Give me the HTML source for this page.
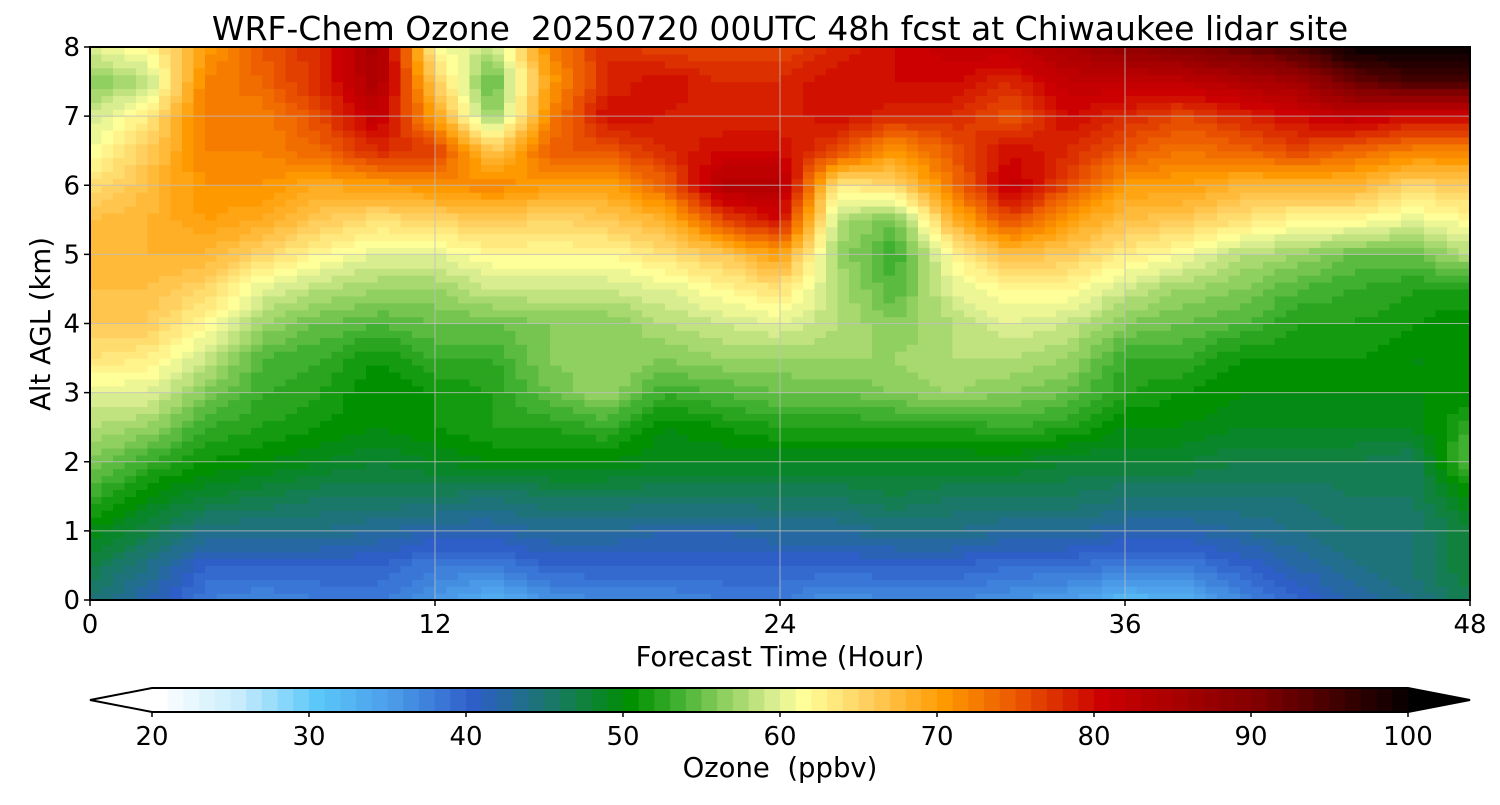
<!DOCTYPE html>
<html><head><meta charset="utf-8">
<style>
body{margin:0;background:#fff;}
svg text{font-family:"DejaVu Sans","Liberation Sans",sans-serif;fill:#000;white-space:pre;}
</style></head>
<body>
<svg id="chart" width="1500" height="800" viewBox="0 0 1500 800" xml:space="preserve">
<text x="780" y="40" font-size="33" text-anchor="middle">WRF-Chem Ozone  20250720 00UTC 48h fcst at Chiwaukee lidar site</text>
<g id="plot"></g>
<g id="grid"></g>
<rect x="90" y="47" width="1380" height="553" fill="none" stroke="#000" stroke-width="2"/>
<g id="axes"></g>
<text x="780" y="666" font-size="27.5" text-anchor="middle">Forecast Time (Hour)</text>
<text transform="translate(50,324) rotate(-90)" font-size="27.5" text-anchor="middle">Alt AGL (km)</text>
<g id="cbar"></g>
<text x="780" y="777" font-size="27.5" text-anchor="middle">Ozone  (ppbv)</text>
</svg>
<script>
const times=[0,2,4,6,8,10,12,14,16,18,20,22,24,26,28,30,32,34,36,38,40,42,44,46,48];
const alts=[0,0.5,1,1.5,2,2.5,3,3.5,4,4.5,5,5.5,6,6.5,7,7.5,8];
const ozone=[
[45,47,50,53,56,58,60,64,66,67,68,67,64,61,59,56,60],
[42,44,47,50,53,57,60,63,66,67,68,68,67,66,63,58,62],
[38,40,44,48,51,53,56,59,62,65,68,70,71,72,73,72,70],
[37,40,44,47,50,52,53,54,57,60,65,69,71,72,72,74,75],
[38,40,44,46,49,51,52,53,55,58,62,66,69,74,76,78,78],
[38,40,43,46,48,50,50,51,54,57,60,64,70,78,82,85,86],
[36,38,42,46,49,51,51,53,55,57,60,65,71,77,70,66,62],
[33,38,42,45,50,52,52,53,55,59,62,66,72,66,56,54,58],
[36,40,43,46,50,52,55,56,56,59,62,65,70,75,72,70,72],
[37,40,43,46,50,53,57,57,56,59,62,66,70,75,80,78,78],
[37,40,42,46,49,50,53,56,58,60,64,68,74,78,79,80,76],
[38,40,42,46,49,51,54,57,59,62,66,76,84,80,78,78,76],
[38,40,43,46,49,52,55,57,60,64,70,80,84,80,78,78,76],
[36,40,43,46,49,52,55,57,58,58,57,58,63,76,80,80,78],
[37,40,44,47,49,52,56,57,56,54,53,55,65,70,78,80,80],
[37,40,44,46,49,52,57,58,58,60,62,68,73,75,78,80,82],
[36,39,43,46,49,53,56,58,60,62,67,76,82,80,75,78,82],
[35,39,43,46,48,52,55,57,59,62,66,70,76,78,80,82,85],
[32,38,42,45,48,50,52,53,56,59,63,67,70,75,78,82,88],
[33,38,42,45,48,50,51,53,55,57,61,66,70,73,76,82,90],
[37,40,43,45,47,49,50,51,54,56,58,64,68,74,78,84,92],
[40,42,44,45,47,49,50,51,52,54,57,62,68,76,80,86,95],
[42,44,45,46,47,49,50,51,52,53,55,62,68,74,82,92,100],
[44,45,45,46,46,49,50,50,51,52,55,60,65,72,80,95,100],
[47,48,48,50,55,53,50,50,50,52,58,62,66,72,80,95,100]];
const xTicks=[0,12,24,36,48];
const yTicks=[0,1,2,3,4,5,6,7,8];
const cbTicks=[20,30,40,50,60,70,80,90,100];

const NS="http://www.w3.org/2000/svg";
const X0=90,X1=1470,Y0=600,Y1=47;
const xs=t=>X0+(t-0)/(48-0)*(X1-X0);
const ys=a=>Y0-(a-0)/(8-0)*(Y0-Y1);
const stops=[[20,"#ffffff"],[25,"#c8ecfc"],[30,"#5cc8fa"],[35,"#4a9ae8"],[40,"#2e5ec8"],[45,"#1a7868"],[50,"#009000"],[53,"#40b030"],[56,"#90d060"],[59,"#d8ec90"],[61,"#ffff99"],[65,"#ffd060"],[70,"#ff9900"],[75,"#e85000"],[80,"#cc0000"],[90,"#800000"],[100,"#000000"]];
function hex(h){return [1,3,5].map(i=>parseInt(h.substr(i,2),16));}
function cmap(v){
  v=Math.max(20,Math.min(100,Math.floor(v)));
  for(let i=0;i<stops.length-1;i++){
    if(v<=stops[i+1][0]){const a=hex(stops[i][1]),b=hex(stops[i+1][1]);const f=(v-stops[i][0])/(stops[i+1][0]-stops[i][0]);
      return "rgb("+a.map((c,k)=>Math.round(c+(b[k]-c)*f)).join(",")+")";}
  }
  return "#000";
}
function interp(t,a){
  let i=Math.min(times.length-2,Math.floor(t/2)),j=Math.min(alts.length-2,Math.floor(a/0.5));
  const ft=(t-times[i])/(times[i+1]-times[i]),fa=(a-alts[j])/(alts[j+1]-alts[j]);
  const v00=ozone[i][j],v10=ozone[i+1][j],v01=ozone[i][j+1],v11=ozone[i+1][j+1];
  return v00*(1-ft)*(1-fa)+v10*ft*(1-fa)+v01*(1-ft)*fa+v11*ft*fa;
}
const plot=document.getElementById("plot");
const NX=120,NY=80;
for(let i=0;i<NX;i++)for(let j=0;j<NY;j++){
  const t0=48*i/NX,t1=48*(i+1)/NX,a0=8*j/NY,a1=8*(j+1)/NY;
  const v=interp((t0+t1)/2,(a0+a1)/2);
  const r=document.createElementNS(NS,"rect");
  
  
  r.setAttribute("x",xs(t0));r.setAttribute("y",ys(a1));
  r.setAttribute("width",xs(t1)-xs(t0)+0.6);r.setAttribute("height",ys(a0)-ys(a1)+0.6);
  r.setAttribute("fill",cmap(v));plot.appendChild(r);
}
const grid=document.getElementById("grid"),axes=document.getElementById("axes");
function line(p,x1,y1,x2,y2,st,w,name){const l=document.createElementNS(NS,"line");
  
  
  l.setAttribute("x1",x1);l.setAttribute("y1",y1);l.setAttribute("x2",x2);l.setAttribute("y2",y2);l.setAttribute("stroke",st);l.setAttribute("stroke-width",w);p.appendChild(l);}
function text(p,x,y,s,anchor,size,name){const t=document.createElementNS(NS,"text");
  
  
  t.setAttribute("x",x);t.setAttribute("y",y);t.setAttribute("text-anchor",anchor);t.setAttribute("font-size",size);t.textContent=s;p.appendChild(t);}
xTicks.forEach(t=>{line(grid,xs(t),Y1,xs(t),Y0,"rgba(190,190,190,0.8)",1,"x-grid-line");line(axes,xs(t),Y0,xs(t),Y0+6,"#000",1.5,"x-tick");text(axes,xs(t),633,String(t),"middle",26,"x-tick-label");});
yTicks.forEach(a=>{line(grid,X0,ys(a),X1,ys(a),"rgba(190,190,190,0.8)",1,"y-grid-line");line(axes,X0-6,ys(a),X0,ys(a),"#000",1.5,"y-tick");text(axes,X0-10,ys(a)+9,String(a),"end",26,"y-tick-label");});
const cb=document.getElementById("cbar");
const CX0=152,CX1=1408,CY0=688,CY1=712;
const cx=v=>CX0+(v-20)/80*(CX1-CX0);
for(let v=20;v<100;v++){const r=document.createElementNS(NS,"rect");
  
  
  r.setAttribute("x",cx(v));r.setAttribute("y",CY0);r.setAttribute("width",cx(v+1)-cx(v)+0.5);r.setAttribute("height",CY1-CY0);r.setAttribute("fill",cmap(v));cb.appendChild(r);}
const tri1=document.createElementNS(NS,"polygon");


tri1.setAttribute("points",`${CX0},${CY0} 90,700 ${CX0},${CY1}`);tri1.setAttribute("fill","#fff");cb.appendChild(tri1);
const tri2=document.createElementNS(NS,"polygon");


tri2.setAttribute("points",`${CX1},${CY0} 1470,700 ${CX1},${CY1}`);tri2.setAttribute("fill","#000");cb.appendChild(tri2);
const outline=document.createElementNS(NS,"polygon");


outline.setAttribute("points",`90,700 ${CX0},${CY0} ${CX1},${CY0} 1470,700 ${CX1},${CY1} ${CX0},${CY1}`);outline.setAttribute("fill","none");outline.setAttribute("stroke","#000");outline.setAttribute("stroke-width","2");cb.appendChild(outline);
cbTicks.forEach(v=>{line(cb,cx(v),CY1,cx(v),CY1+5,"#000",1.5,"colorbar-tick");text(cb,cx(v),745,String(v),"middle",26,"colorbar-tick-label");});
</script>
</body></html>
